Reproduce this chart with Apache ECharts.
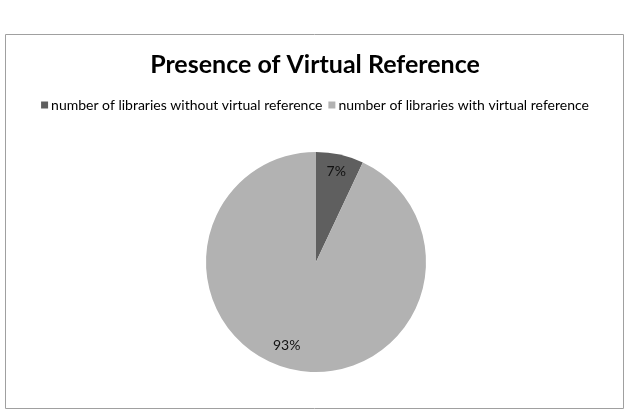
<!DOCTYPE html>
<html><head><meta charset="utf-8">
<script src="https://cdn.jsdelivr.net/npm/echarts@6/dist/echarts.min.js"></script>
<style>html,body{margin:0;padding:0;background:#fff}#c{width:630px;height:413px}</style>
</head><body><div id="c"></div>
<script>
var categories = ["number of libraries without virtual reference", "number of libraries with virtual reference"];
var values = [7, 93];
var colors = ["#5f5f5f", "#b2b2b2"];
var titleText = "Presence of Virtual Reference";

var labelOffsets = [[0, 0], [-9, -7]];
var chart = echarts.init(document.getElementById('c'), null, {renderer: 'canvas'});
var data = categories.map(function (n, i) { return { name: n, value: values[i], itemStyle: { color: colors[i] } }; });
chart.setOption({
  animation: false,
  graphic: [{ type: 'rect', shape: { x: 5.5, y: 34.5, width: 618, height: 374 }, style: { fill: 'none', stroke: '#a0a0a0', lineWidth: 1 } }],
  title: { text: titleText, left: 'center', top: 47, textStyle: { fontFamily: 'Lato', fontWeight: 'bold', fontSize: 25, color: '#000' } },
  legend: { data: categories, top: 93, left: 'center', itemWidth: 7, itemHeight: 7, itemGap: 6, icon: 'rect',
    textStyle: { fontFamily: 'Lato', fontSize: 14, color: '#000', padding: [0, 0, 0, -2] } },
  series: [
    { type: 'pie', radius: 110, center: [316, 262], startAngle: 90, clockwise: true, silent: true,
      label: { show: false }, labelLine: { show: false }, data: data },
    { type: 'pie', radius: 180, center: [316, 262], startAngle: 90, clockwise: true, silent: true, z: 3,
      legendHoverLink: false,
      label: { show: true, position: 'inside', formatter: '{d}%', fontFamily: 'Lato', fontSize: 14, color: '#111' },
      labelLine: { show: false },
      data: values.map(function (v, i) { return { name: 'lbl' + i, value: v, itemStyle: { color: 'rgba(0,0,0,0)' }, label: { offset: labelOffsets[i] } }; }) }
  ]
});
</script></body></html>
